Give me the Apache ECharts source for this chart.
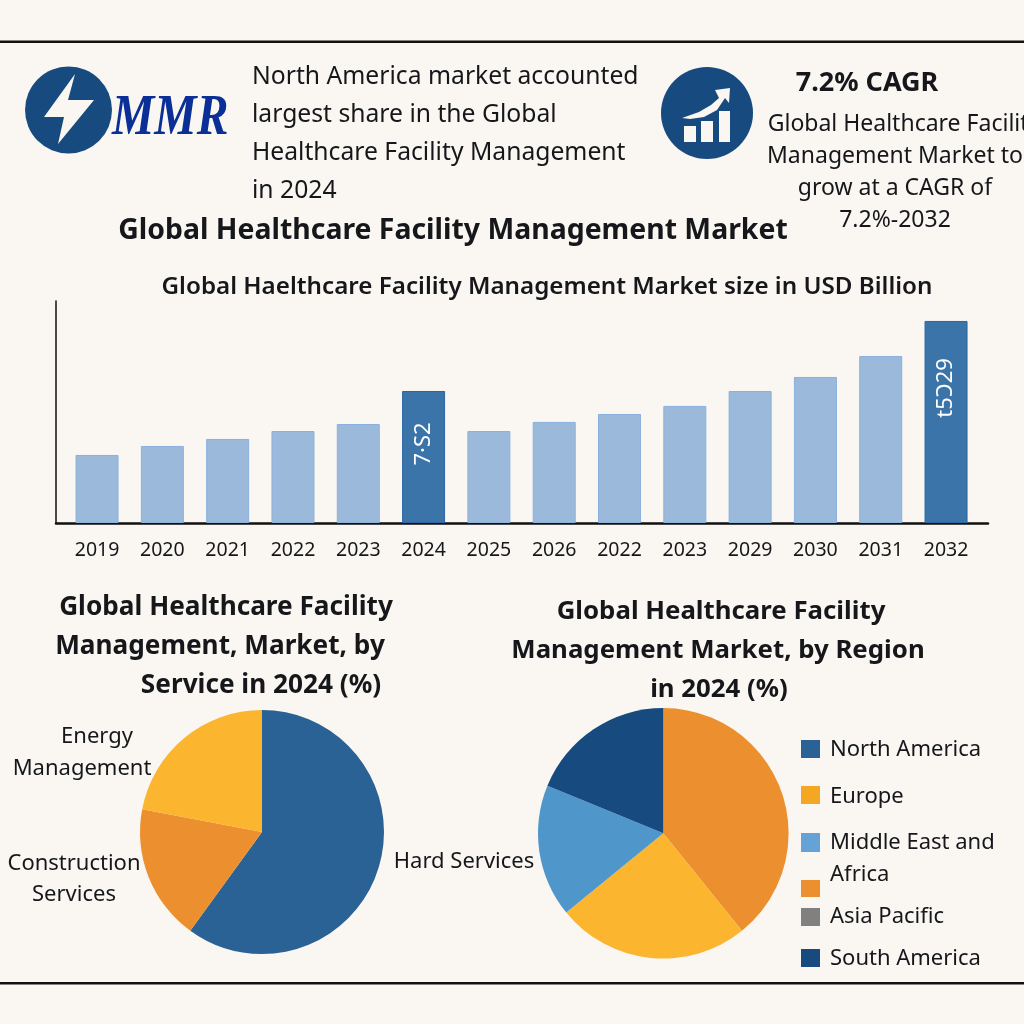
<!DOCTYPE html>
<html>
<head>
<meta charset="utf-8">
<title>Global Healthcare Facility Management Market</title>
<style>
  html, body { margin: 0; padding: 0; background: #faf7f2; }
  #main { width: 1024px; height: 1024px; }
</style>
<script src="https://cdn.jsdelivr.net/npm/echarts@6/dist/echarts.min.js"></script>
</head>
<body>
<div id="main"></div>
<script>
// bar chart data, the tick labels repeat 2022 and 2023 like the picture does
var years = ['2019', '2020', '2021', '2022', '2023', '2024', '2025', '2026', '2022', '2023', '2029', '2030', '2031', '2032'];
var marketSize = [5.15, 5.83, 6.36, 6.96, 7.49, 9.99, 6.96, 7.65, 8.25, 8.86, 9.99, 11.05, 12.64, 15.29];
var barNotes = { 5: '7·S2', 13: 't5Ɔ29' };

var serviceNames = ['Hard Services', 'Construction Services', 'Energy Management'];
var serviceShare = [60, 18, 22];

var regionNames = ['Asia Pacific', 'Europe', 'Middle East and Africa', 'South America'];
var regionShare = [39.2, 24.9, 17.1, 18.8];

var legendNames = ['North America', 'Europe', 'Middle East and', 'Africa', 'Asia Pacific', 'South America'];

var introLines = ['North America market accounted', 'largest share in the Global', 'Healthcare Facility Management', 'in 2024'];
var cagrLines = ['Global Healthcare Facility', 'Management Market to', 'grow at a CAGR of', '7.2%-2032'];
var serviceTitle = ['Global Healthcare Facility', 'Management, Market, by', 'Service in 2024 (%)'];
var regionTitle = ['Global Healthcare Facility', 'Management Market, by Region', 'in 2024 (%)'];

var FONT = '"Noto Sans", sans-serif';
var INK = '#15171a';
var PAPER = '#faf7f2';
var NAVY = '#174b7f', BLUE = '#2a6295', SKY = '#4f96cb', AMBER = '#fbb52f', ORANGE = '#ec8f2e', GREY = '#808080';

function txt(str, x, y, size, opts) {
    opts = opts || {};
    return {
        type: 'text', x: x, y: y, silent: true,
        style: {
            text: str, fill: opts.fill || INK, font: (opts.weight || 'normal') + ' ' + size + 'px ' + FONT,
            align: opts.align || 'left', verticalAlign: 'middle'
        }
    };
}

function swatch(x, y, h, color) {
    return { type: 'rect', shape: { x: x, y: y, width: 19, height: h }, style: { fill: color }, silent: true };
}

var graphics = [
    { type: 'rect', shape: { x: 0, y: 40.5, width: 1024, height: 2.5 }, style: { fill: '#111' } },
    { type: 'rect', shape: { x: 0, y: 982, width: 1024, height: 2.5 }, style: { fill: '#111' } },

    // MMR logo
    { type: 'circle', shape: { cx: 68.5, cy: 110, r: 43.5 }, style: { fill: NAVY } },
    { type: 'polygon', shape: { points: [[75, 74], [44, 117], [64, 117], [58, 144], [94, 100], [68, 100]] }, style: { fill: PAPER } },
    {
        type: 'text', x: 112, y: 148, scaleX: 0.85, silent: true,
        style: { text: 'MMR', fill: '#0a2f96', font: 'italic bold 56px "Liberation Serif", serif', verticalAlign: 'bottom' }
    },

    // growth icon
    { type: 'circle', shape: { cx: 707, cy: 113, r: 46 }, style: { fill: NAVY } },
    { type: 'rect', shape: { x: 684, y: 126, width: 12, height: 16 }, style: { fill: PAPER } },
    { type: 'rect', shape: { x: 701, y: 121, width: 12, height: 21 }, style: { fill: PAPER } },
    { type: 'rect', shape: { x: 719, y: 111, width: 11, height: 31 }, style: { fill: PAPER } },
    { type: 'polygon', shape: { points: [[682, 118], [699, 112], [711, 105], [719, 98], [715, 90], [730, 88], [729, 103], [725, 98], [717, 110], [704, 117], [690, 119]] }, style: { fill: PAPER } },

    txt('7.2% CAGR', 867, 83, 27, { weight: 'bold', align: 'center' }),
    txt('Global Healthcare Facility Management Market', 453, 231, 28.4, { weight: 'bold', align: 'center' }),
    txt('Global Haelthcare Facility Management Market size in USD Billion', 547, 287, 24.2, { weight: '600', align: 'center' }),

    // pie labels
    txt('Energy', 97, 737, 22, { align: 'center' }),
    txt('Management', 82, 769, 22, { align: 'center' }),
    txt('Construction', 74, 864, 22, { align: 'center' }),
    txt('Services', 74, 895, 22, { align: 'center' }),
    txt('Hard Services', 464, 862, 22, { align: 'center' }),

    // legend of the region pie
    swatch(801, 740, 18, BLUE),
    swatch(801, 786, 18, '#f5a623'),
    swatch(801, 833, 19, '#65a3d6'),
    swatch(801, 880, 17, ORANGE),
    swatch(801, 908, 18, GREY),
    swatch(801, 949, 18, NAVY),
    txt(legendNames[0], 830, 750, 22),
    txt(legendNames[1], 830, 797, 22),
    txt(legendNames[2], 830, 843, 22),
    txt(legendNames[3], 830, 875, 22),
    txt(legendNames[4], 830, 917, 22),
    txt(legendNames[5], 830, 959, 22)
];

introLines.forEach(function (line, i) { graphics.push(txt(line, 252, 77 + i * 38, 24.7)); });
// first line runs off the right edge of the page, same as the picture
[904, 895, 895, 895].forEach(function (cx, i) { graphics.push(txt(cagrLines[i], cx, 124 + i * 32, 23, { align: 'center' })); });
[226, 220, 261].forEach(function (cx, i) { graphics.push(txt(serviceTitle[i], cx, 608 + i * 39, 26.2, { weight: 'bold', align: 'center' })); });
[721, 718, 719].forEach(function (cx, i) { graphics.push(txt(regionTitle[i], cx, 612 + i * 39, 25.8, { weight: 'bold', align: 'center' })); });

var barData = marketSize.map(function (v, i) {
    var dark = barNotes[i] !== undefined;
    return {
        value: v,
        itemStyle: dark
            ? { color: '#3b74a9', borderColor: '#2a66a3', borderWidth: 1 }
            : { color: '#9bbadb', borderColor: '#8ab0dc', borderWidth: 1 },
        label: {
            show: dark, formatter: barNotes[i] || '', position: 'inside', rotate: 90,
            color: '#fff', fontSize: 22, fontFamily: FONT,
            offset: [i === 5 ? 13 : 34, 0]
        }
    };
});

function frameAxis(idx, width) {
    return {
        type: 'value', gridIndex: idx, min: 0, max: 1,
        axisLine: { show: true, onZero: false, lineStyle: { color: '#111', width: width } },
        axisTick: { show: false }, axisLabel: { show: false }, splitLine: { show: false }
    };
}

var chart = echarts.init(document.getElementById('main'));
chart.setOption({
    animation: false,
    backgroundColor: PAPER,
    grid: [
        { left: 64.4, width: 914.3, top: 301, height: 222 },
        { left: 56, width: 932, top: 301, height: 222 }
    ],
    xAxis: [
        {
            type: 'category', data: years, gridIndex: 0,
            axisLine: { show: false }, axisTick: { show: false },
            axisLabel: { color: INK, fontSize: 19.5, fontFamily: FONT, margin: 17, interval: 0 }
        },
        frameAxis(1, 2.5)
    ],
    yAxis: [
        { type: 'value', gridIndex: 0, min: 0, max: 16.8, show: false },
        frameAxis(1, 1.5)
    ],
    series: [
        { type: 'bar', xAxisIndex: 0, yAxisIndex: 0, barWidth: 43, data: barData },
        {
            type: 'pie', center: [262, 832], radius: 122, startAngle: 90, silent: true,
            label: { show: false }, labelLine: { show: false },
            data: serviceNames.map(function (n, i) {
                return { name: n, value: serviceShare[i], itemStyle: { color: [BLUE, ORANGE, AMBER][i] } };
            })
        },
        {
            type: 'pie', center: [663.3, 833.3], radius: 125.3, startAngle: 90, silent: true,
            label: { show: false }, labelLine: { show: false },
            data: regionNames.map(function (n, i) {
                return { name: n, value: regionShare[i], itemStyle: { color: [ORANGE, AMBER, SKY, NAVY][i] } };
            })
        }
    ],
    graphic: { elements: graphics }
});
</script>
</body>
</html>
